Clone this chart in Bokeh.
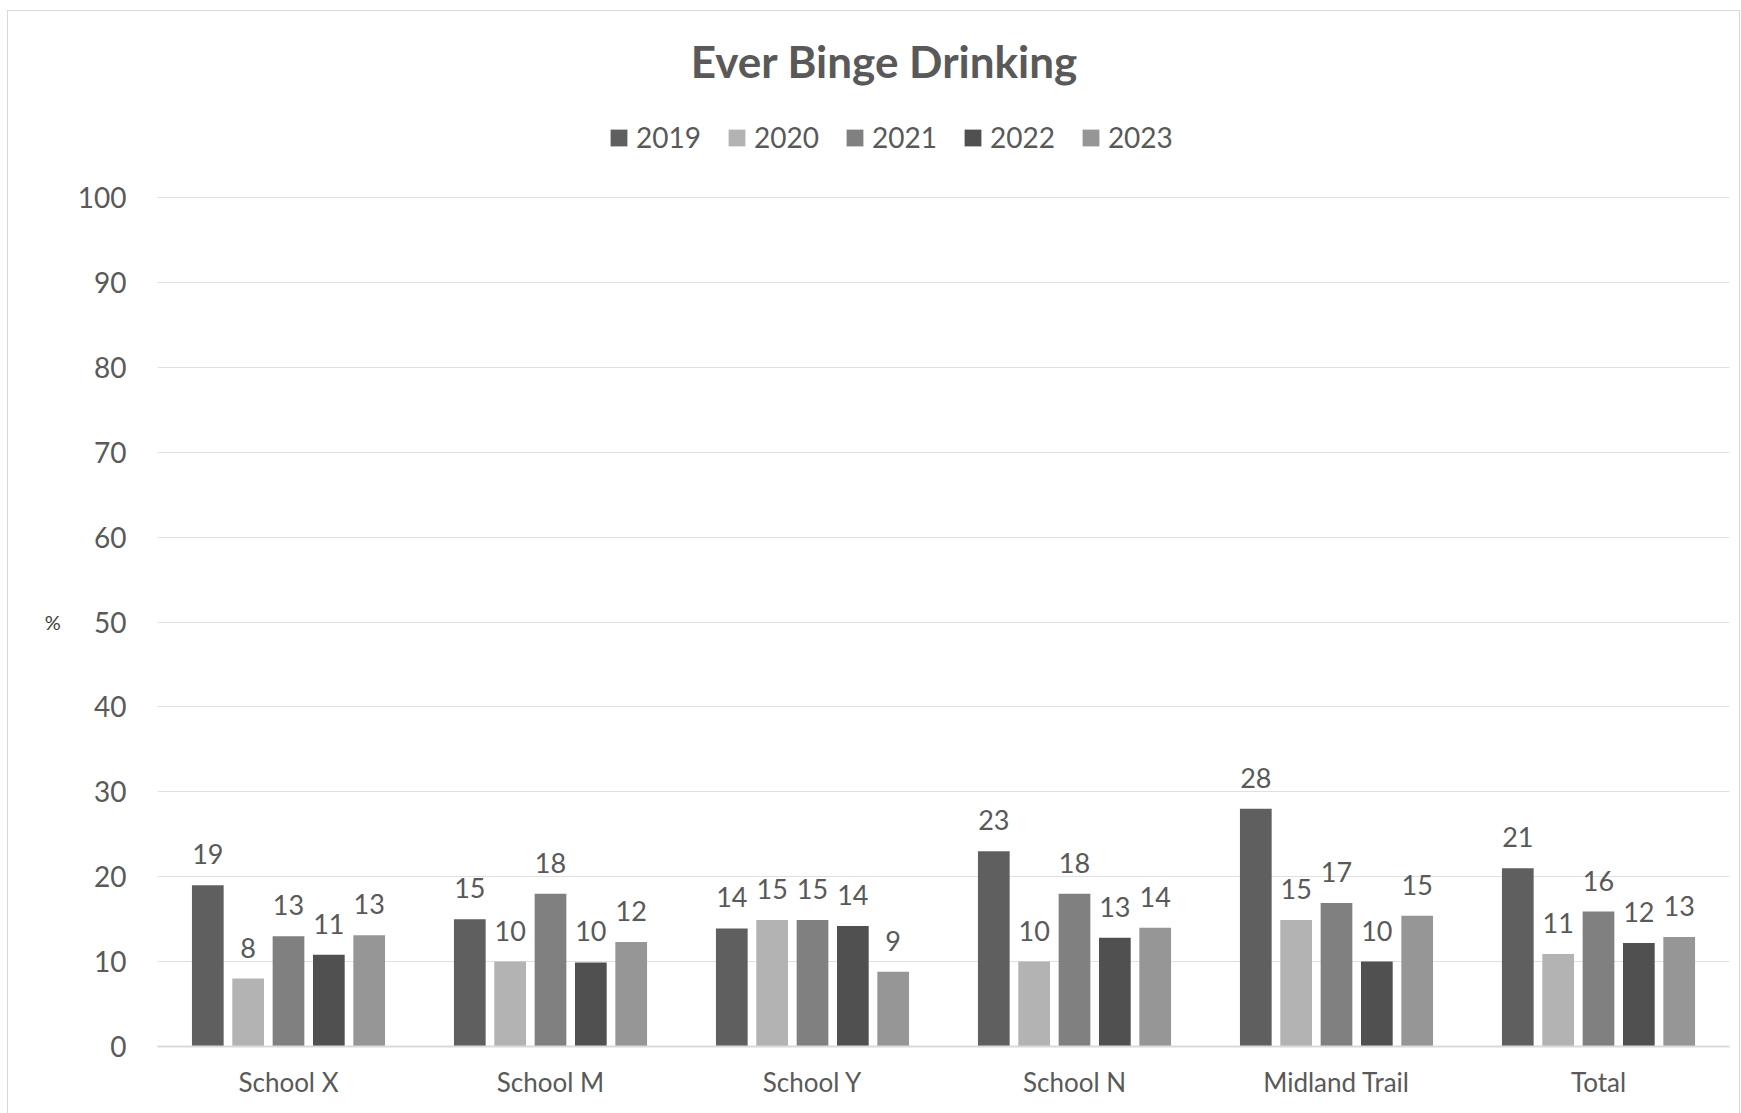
from bokeh.plotting import figure
from bokeh.models import ColumnDataSource, Legend, LegendItem, FixedTicker, FactorRange, Label, Range1d
from bokeh.transform import dodge
from bokeh.core.properties import value
from bokeh.embed import file_html
from bokeh.resources import INLINE

categories = ["School X", "School M", "School Y", "School N", "Midland Trail", "Total"]
years = ["2019", "2020", "2021", "2022", "2023"]
v2019 = [19.0, 15.0, 13.9, 23.0, 28.0, 21.0]
v2020 = [8.0, 10.0, 14.9, 10.0, 14.9, 10.9]
v2021 = [13.0, 18.0, 14.9, 18.0, 16.9, 15.9]
v2022 = [10.8, 9.9, 14.2, 12.8, 10.0, 12.2]
v2023 = [13.1, 12.3, 8.8, 14.0, 15.4, 12.9]
y_ticks = [0, 10, 20, 30, 40, 50, 60, 70, 80, 90, 100]
title_text = "Ever Binge Drinking"
y_label = "%"

series = [v2019, v2020, v2021, v2022, v2023]
colors = ["#5f5f5f", "#b3b3b3", "#808080", "#505050", "#969696"]
offsets = [-0.308, -0.154, 0.0, 0.154, 0.308]

FONT = "Lato"
TXT = "#595959"

# layout (pixels): the frame reaches to the top edge so the title and legend
# can sit inside it; the value axis runs 0..100 over the lower 849 px.
FIG_H = 1102
BOTTOM = 67
FRAME_H = FIG_H - BOTTOM
AXIS_PX = 849
Y_END = 100 * FRAME_H / AXIS_PX

p = figure(x_range=FactorRange(*categories), y_range=Range1d(0, Y_END),
           width=1731, height=FIG_H, output_backend="svg", toolbar_location=None,
           min_border_left=149, min_border_right=10, min_border_top=0, min_border_bottom=BOTTOM)

p.outline_line_color = None
p.background_fill_color = "white"
p.border_fill_color = "white"
p.styles = {"margin-left": "8px", "margin-top": "11px", "outline": "1px solid #d9d9d9"}

items = []
for yr, vals, col, off in zip(years, series, colors, offsets):
    src = ColumnDataSource(dict(cat=categories, val=vals,
                                lab=[str(int(round(v))) for v in vals]))
    r = p.vbar(x=dodge("cat", off, range=p.x_range), top="val", width=0.121,
               source=src, fill_color=col, line_color=None)
    p.text(x=dodge("cat", off, range=p.x_range), y="val", text="lab", source=src,
           text_align="center", text_baseline="alphabetic", y_offset=-31,
           text_font=value(FONT), text_font_size="27px", text_color=TXT)
    items.append(LegendItem(label=yr, renderers=[r]))

legend = Legend(items=items, orientation="horizontal", location=(451, 892),
                label_text_font=FONT, label_text_font_size="28px", label_text_color=TXT,
                glyph_width=21, glyph_height=21, label_standoff=7, spacing=25,
                padding=4, margin=0, border_line_color=None, background_fill_alpha=0)
p.add_layout(legend, "center")

title = Label(x=727, y=986, x_units="screen", y_units="screen", text=title_text,
              text_align="center", text_baseline="middle", text_font=FONT,
              text_font_size="44px", text_font_style="bold", text_color=TXT)
p.add_layout(title)

p.yaxis.ticker = FixedTicker(ticks=y_ticks)
p.yaxis.axis_line_color = None
p.yaxis.major_tick_line_color = None
p.yaxis.minor_tick_line_color = None
p.yaxis.major_tick_out = 0
p.yaxis.major_label_standoff = 31
p.yaxis.major_label_text_font = FONT
p.yaxis.major_label_text_font_size = "28px"
p.yaxis.major_label_text_color = TXT
# the label is centred on the whole frame; blank lines above it move the "%"
# down to the middle of the 0..100 part of the axis
p.yaxis.axis_label = "\n" * 8 + y_label
p.yaxis.axis_label_orientation = "horizontal"
p.yaxis.axis_label_standoff = 14
p.yaxis.axis_label_text_font = FONT
p.yaxis.axis_label_text_font_size = "20px"
p.yaxis.axis_label_text_line_height = 0.97
p.yaxis.axis_label_text_font_style = "normal"
p.yaxis.axis_label_text_color = "#404040"

p.xaxis.axis_line_color = "#d9d9d9"
p.xaxis.axis_line_width = 2
p.xaxis.major_tick_line_color = None
p.xaxis.minor_tick_line_color = None
p.xaxis.major_tick_out = 0
p.xaxis.major_label_standoff = 19
p.xaxis.major_label_text_font = FONT
p.xaxis.major_label_text_font_size = "26px"
p.xaxis.major_label_text_color = TXT

p.xgrid.grid_line_color = None
p.ygrid.grid_line_color = "#e0e0e0"
p.ygrid.grid_line_width = 1

open("out.html", "w").write(file_html(p, INLINE))
